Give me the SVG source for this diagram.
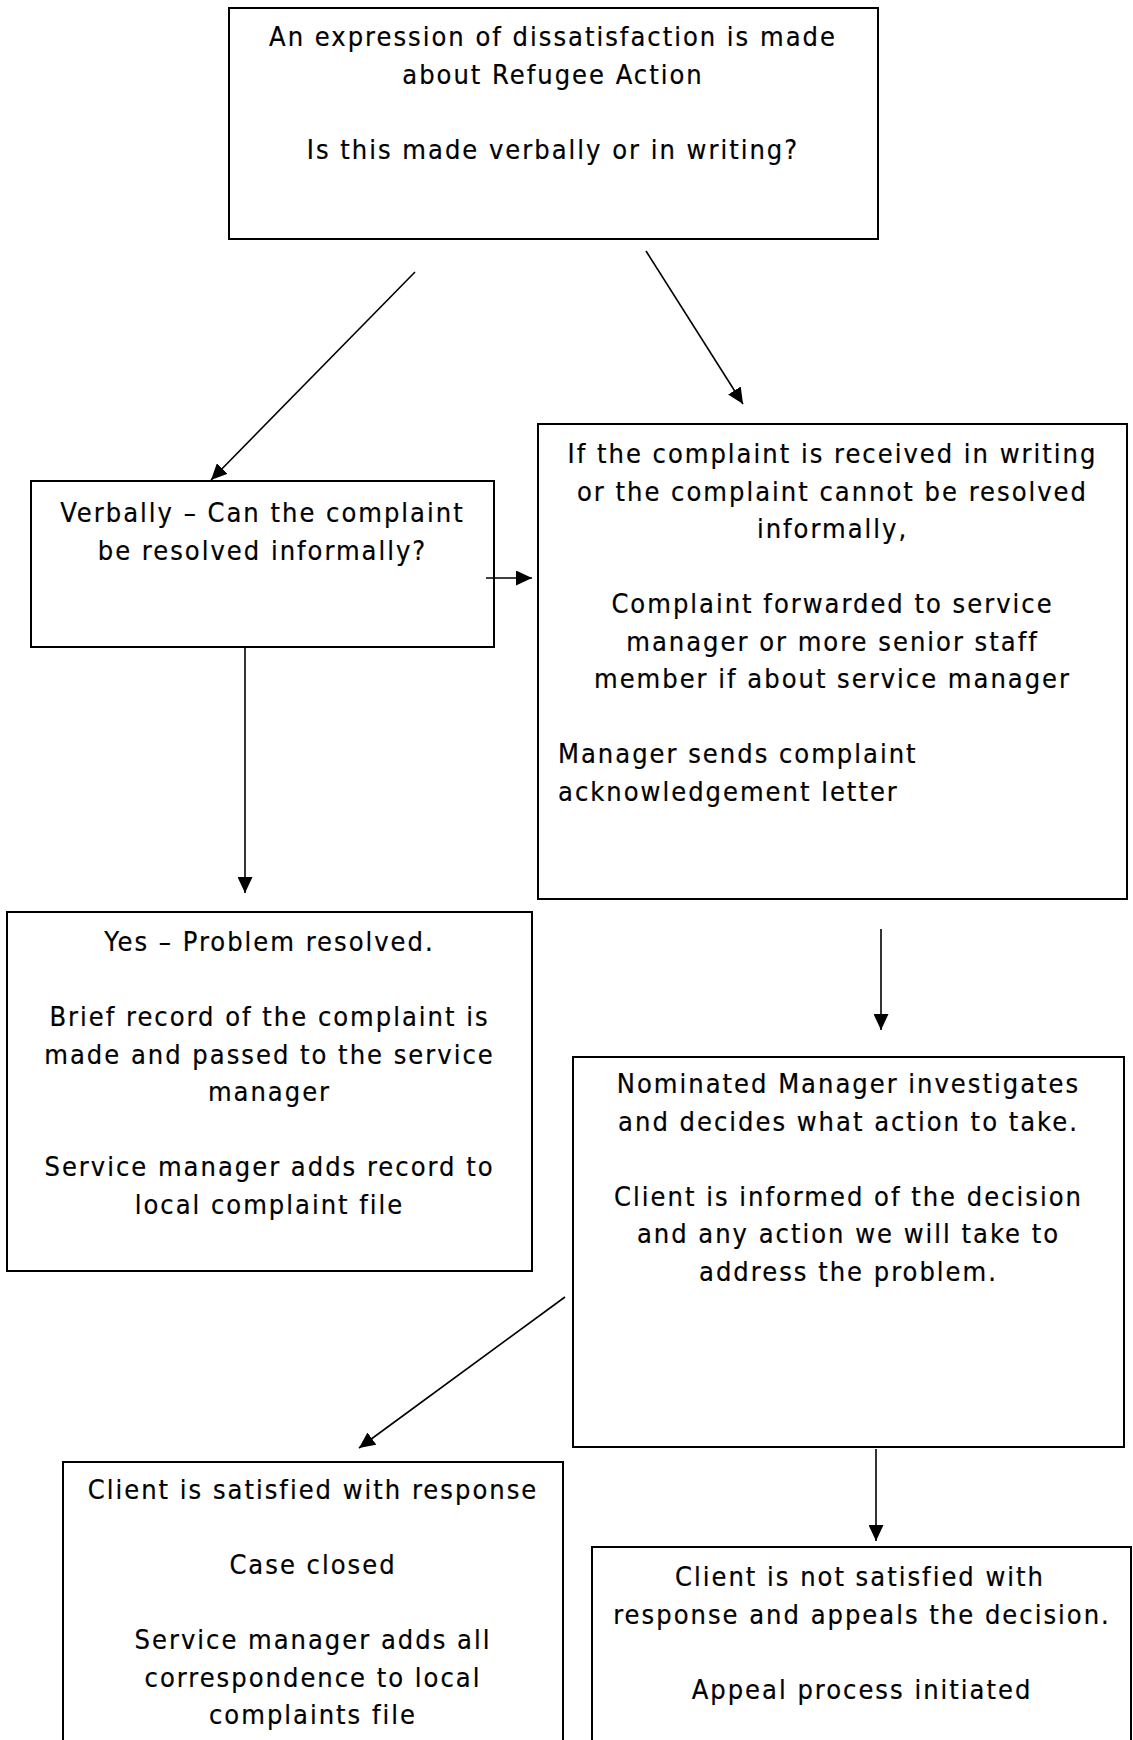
<svg xmlns="http://www.w3.org/2000/svg" width="1133" height="1740" viewBox="0 0 1133 1740">
<style>
  .box { fill: #ffffff; stroke: #000000; stroke-width: 2; }
  .t { font-family: "DejaVu Sans Condensed", "DejaVu Sans", sans-serif; font-size: 27px; letter-spacing: 2px; fill: #000000; stroke: #000000; stroke-width: 0.2; text-anchor: middle; }
  .tl { text-anchor: start; }
  .conn line { stroke: #000000; stroke-width: 1.6; fill: none; marker-end: url(#arrow); }
</style>
<defs>
  <marker id="arrow" markerUnits="userSpaceOnUse" markerWidth="17" markerHeight="15" refX="16" refY="7.5" orient="auto" viewBox="0 0 17 15">
    <path d="M0,0 L16,7.5 L0,15 Z" fill="#000000"/>
  </marker>
</defs>
<rect width="1133" height="1740" fill="#ffffff"/>

<g id="node-expression">
  <rect class="box" x="229" y="8" width="649" height="231"/>
  <text class="t" x="553" y="46">An expression of dissatisfaction is made</text>
  <text class="t" x="553" y="83.5">about Refugee Action</text>
  <text class="t" x="553" y="158.5">Is this made verbally or in writing?</text>
</g>

<g id="node-verbally">
  <rect class="box" x="31" y="481" width="463" height="166"/>
  <text class="t" x="262.5" y="522">Verbally – Can the complaint</text>
  <text class="t" x="262.5" y="559.5">be resolved informally?</text>
</g>

<g id="node-writing">
  <rect class="box" x="538" y="424" width="589" height="475"/>
  <text class="t" x="832.5" y="463">If the complaint is received in writing</text>
  <text class="t" x="832.5" y="500.5">or the complaint cannot be resolved</text>
  <text class="t" x="832.5" y="538">informally,</text>
  <text class="t" x="832.5" y="613">Complaint forwarded to service</text>
  <text class="t" x="832.5" y="650.5">manager or more senior staff</text>
  <text class="t" x="832.5" y="688">member if about service manager</text>
  <text class="t tl" x="558" y="763">Manager sends complaint</text>
  <text class="t tl" x="558" y="800.5">acknowledgement letter</text>
</g>

<g id="node-resolved">
  <rect class="box" x="7" y="912" width="525" height="359"/>
  <text class="t" x="269.5" y="951">Yes – Problem resolved.</text>
  <text class="t" x="269.5" y="1026">Brief record of the complaint is</text>
  <text class="t" x="269.5" y="1063.5">made and passed to the service</text>
  <text class="t" x="269.5" y="1101">manager</text>
  <text class="t" x="269.5" y="1176">Service manager adds record to</text>
  <text class="t" x="269.5" y="1213.5">local complaint file</text>
</g>

<g id="node-investigate">
  <rect class="box" x="573" y="1057" width="551" height="390"/>
  <text class="t" x="848.5" y="1093">Nominated Manager investigates</text>
  <text class="t" x="848.5" y="1130.5">and decides what action to take.</text>
  <text class="t" x="848.5" y="1205.5">Client is informed of the decision</text>
  <text class="t" x="848.5" y="1243">and any action we will take to</text>
  <text class="t" x="848.5" y="1280.5">address the problem.</text>
</g>

<g id="node-satisfied">
  <rect class="box" x="63" y="1462" width="500" height="300"/>
  <text class="t" x="313" y="1499">Client is satisfied with response</text>
  <text class="t" x="313" y="1574">Case closed</text>
  <text class="t" x="313" y="1649">Service manager adds all</text>
  <text class="t" x="313" y="1686.5">correspondence to local</text>
  <text class="t" x="313" y="1724">complaints file</text>
</g>

<g id="node-appeal">
  <rect class="box" x="592" y="1547" width="539" height="220"/>
  <text class="t" x="860" y="1586">Client is not satisfied with</text>
  <text class="t" x="862" y="1623.5">response and appeals the decision.</text>
  <text class="t" x="862" y="1698.5">Appeal process initiated</text>
</g>

<g id="connectors" class="conn">
  <line x1="415" y1="272" x2="211" y2="480"/>
  <line x1="646" y1="251" x2="743" y2="404"/>
  <line x1="486" y1="578" x2="532" y2="578"/>
  <line x1="245" y1="647" x2="245" y2="893"/>
  <line x1="881" y1="929" x2="881" y2="1030"/>
  <line x1="565" y1="1297" x2="359" y2="1448"/>
  <line x1="876" y1="1449" x2="876" y2="1541"/>
</g>
</svg>
